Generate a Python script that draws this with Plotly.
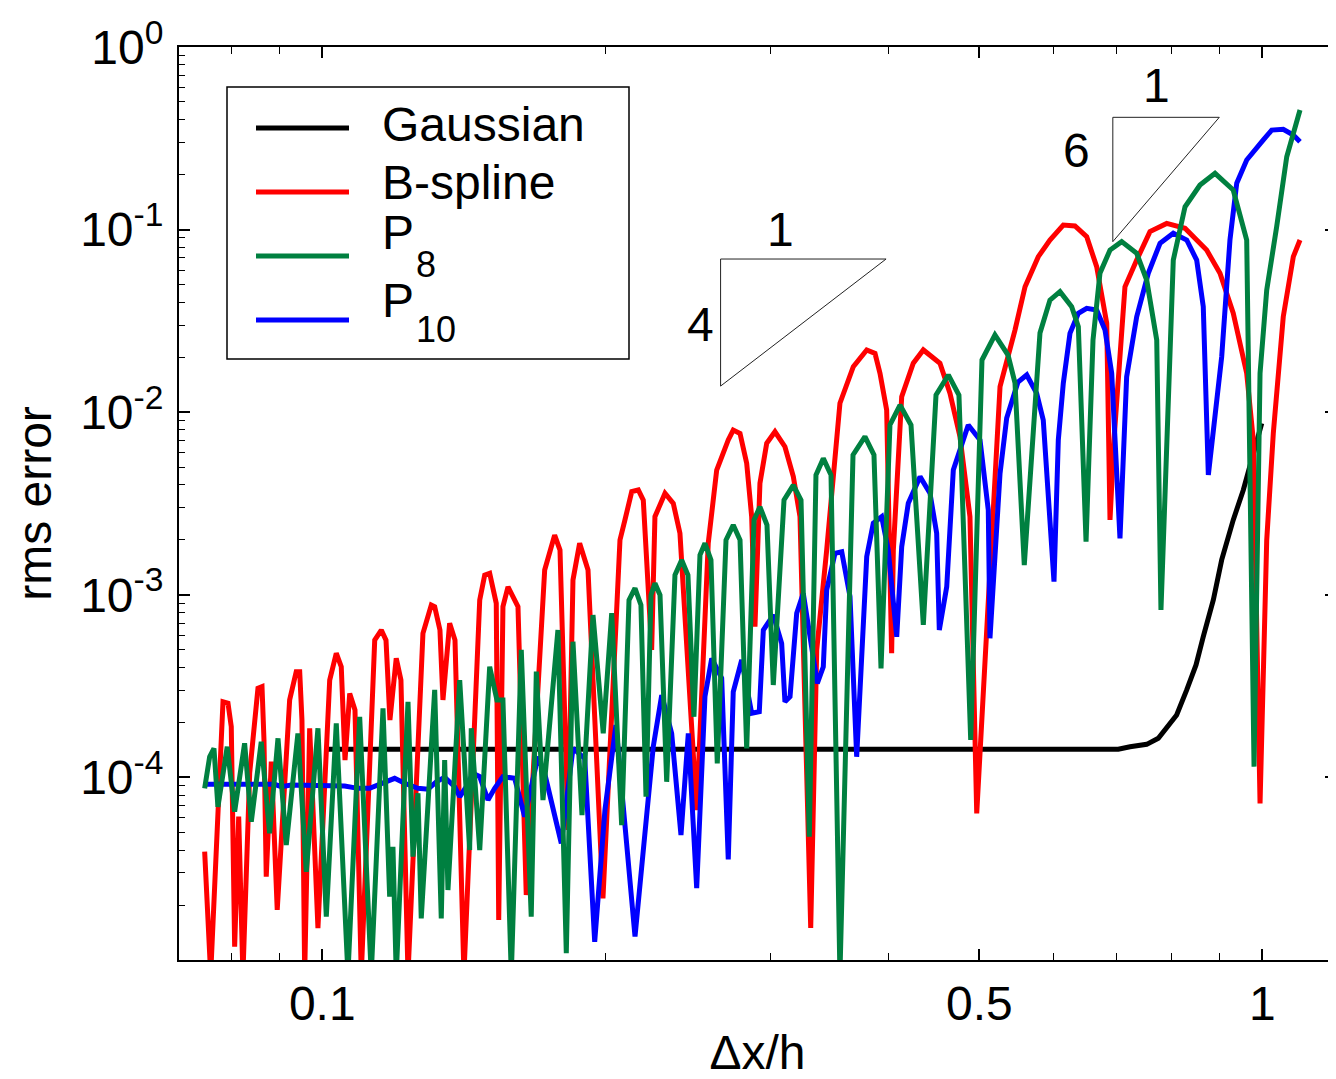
import plotly.graph_objects as go

# Curve samples. The plot is log-log, so every value is
# stored as log10(dx/h) and log10(rms error).

gauss_log_dx = [-0.9975, -0.1532, -0.1407, -0.1230, -0.1106, -0.0911, -0.0804, -0.0705,
                -0.0628, -0.0521, -0.0432, -0.0309, -0.0202, -0.0113, -0.0006]
gauss_log_err = [-3.846, -3.846, -3.832, -3.819, -3.786, -3.658, -3.521, -3.384,
                 -3.229, -3.028, -2.809, -2.590, -2.426, -2.262, -2.061]

bspline_log_dx = [-1.1251, -1.1187, -1.1056, -1.1003, -1.0968, -1.0932, -1.0889, -1.0844,
                  -1.0772, -1.0684, -1.0641, -1.0620, -1.0596, -1.0542, -1.0479, -1.0347,
                  -1.0277, -1.0240, -1.0216, -1.0187, -1.0134, -1.0046, -0.9921, -0.9851,
                  -0.9798, -0.9758, -0.9708, -0.9652, -0.9585, -0.9442, -0.9372, -0.9322,
                  -0.9280, -0.9213, -0.9163, -0.9088, -0.8929, -0.8840, -0.8804, -0.8748,
                  -0.8716, -0.8645, -0.8588, -0.8493, -0.8325, -0.8272, -0.8219, -0.8149,
                  -0.8123, -0.8078, -0.8024, -0.7918, -0.7830, -0.7634, -0.7528, -0.7471,
                  -0.7386, -0.7333, -0.7262, -0.7173, -0.7014, -0.6833, -0.6780, -0.6708,
                  -0.6638, -0.6585, -0.6496, -0.6461, -0.6354, -0.6266, -0.6195, -0.6017,
                  -0.5894, -0.5804, -0.5681, -0.5628, -0.5556, -0.5485, -0.5432, -0.5397,
                  -0.5344, -0.5272, -0.5184, -0.5078, -0.4989, -0.4918, -0.4804, -0.4740,
                  -0.4634, -0.4493, -0.4351, -0.4208, -0.4120, -0.4067, -0.3996, -0.3943,
                  -0.3925, -0.3836, -0.3713, -0.3606, -0.3429, -0.3322, -0.3216, -0.3110,
                  -0.3038, -0.2790, -0.2631, -0.2524, -0.2383, -0.2259, -0.2117, -0.1993,
                  -0.1868, -0.1762, -0.1655, -0.1620, -0.1578, -0.1461, -0.1336, -0.1195,
                  -0.1017, -0.0822, -0.0592, -0.0450, -0.0309, -0.0166, -0.0096, -0.0024,
                  0.0047, 0.0117, 0.0223, 0.0330, 0.0401]
bspline_log_err = [-4.407, -5.08, -3.586, -3.594, -3.722, -4.927, -4.215, -5.08,
                   -3.976, -3.512, -3.503, -3.795, -4.544, -3.914, -4.726, -3.576,
                   -3.421, -3.421, -3.686, -5.08, -3.731, -4.826, -3.467, -3.320,
                   -3.394, -3.905, -3.540, -3.631, -5.08, -3.248, -3.193, -3.248,
                   -3.686, -3.348, -3.467, -5.08, -3.211, -3.056, -3.065, -3.193,
                   -3.576, -3.156, -3.248, -5.08, -3.029, -2.892, -2.882, -3.047,
                   -4.781, -3.065, -2.956, -3.065, -4.644, -2.864, -2.673, -2.755,
                   -4.288, -2.919, -2.718, -2.864, -4.662, -2.700, -2.590, -2.435,
                   -2.426, -2.481, -3.302, -2.572, -2.444, -2.499, -2.663, -4.179,
                   -2.718, -2.317, -2.152, -2.098, -2.116, -2.280, -2.572, -3.175,
                   -2.389, -2.170, -2.107, -2.189, -2.353, -2.572, -4.825, -3.302,
                   -2.755, -1.951, -1.751, -1.659, -1.678, -1.787, -1.988, -3.320,
                   -2.755, -1.915, -1.732, -1.659, -1.732, -1.897, -2.134, -2.572,
                   -4.197, -1.860, -1.550, -1.313, -1.148, -1.057, -0.975, -0.980,
                   -1.039, -1.203, -1.513, -2.590, -2.152, -1.313, -1.167, -1.011,
                   -0.966, -0.993, -1.112, -1.239, -1.458, -1.787, -2.152, -4.142,
                   -2.700, -2.116, -1.477, -1.148, -1.057]

p8_log_dx = [-1.1251, -1.1198, -1.1152, -1.1110, -1.1011, -1.0932, -1.0826, -1.0755,
             -1.0649, -1.0560, -1.0471, -1.0383, -1.0259, -1.0170, -1.0046, -0.9957,
             -0.9851, -0.9727, -0.9602, -0.9479, -0.9354, -0.9283, -0.9248, -0.9213,
             -0.9088, -0.9035, -0.8982, -0.8947, -0.8804, -0.8734, -0.8698, -0.8663,
             -0.8538, -0.8432, -0.8415, -0.8325, -0.8219, -0.8142, -0.8078, -0.7989,
             -0.7883, -0.7777, -0.7723, -0.7652, -0.7493, -0.7404, -0.7333, -0.7237,
             -0.7120, -0.7011, -0.6921, -0.6815, -0.6737, -0.6673, -0.6610, -0.6556,
             -0.6503, -0.6461, -0.6407, -0.6336, -0.6248, -0.6177, -0.6110, -0.6046,
             -0.5982, -0.5929, -0.5865, -0.5798, -0.5705, -0.5628, -0.5556, -0.5485,
             -0.5407, -0.5344, -0.5269, -0.5202, -0.5088, -0.4989, -0.4907, -0.4819,
             -0.4748, -0.4670, -0.4588, -0.4493, -0.4354, -0.4227, -0.4131, -0.4056,
             -0.3961, -0.3854, -0.3737, -0.3606, -0.3471, -0.3340, -0.3227, -0.3102,
             -0.2982, -0.2844, -0.2705, -0.2631, -0.2532, -0.2365, -0.2259, -0.2152,
             -0.2028, -0.1957, -0.1875, -0.1801, -0.1727, -0.1620, -0.1496, -0.1336,
             -0.1230, -0.1123, -0.1078, -0.0947, -0.0822, -0.0663, -0.0503, -0.0309,
             -0.0166, -0.0088, -0.0024, 0.0047, 0.0153, 0.0260, 0.0401]
p8_log_err = [-4.060, -3.887, -3.841, -4.161, -3.832, -4.188, -3.813, -4.243,
              -3.805, -4.306, -3.786, -4.370, -3.759, -4.517, -3.731, -4.763,
              -3.704, -5.08, -3.668, -5.08, -3.622, -4.653, -4.380, -5.08,
              -3.586, -4.434, -4.087, -4.772, -3.521, -4.772, -3.905, -4.617,
              -3.467, -4.398, -3.731, -4.398, -3.394, -3.576, -3.576, -5.08,
              -3.302, -4.763, -3.421, -4.124, -3.193, -4.963, -3.257, -4.206,
              -3.111, -3.759, -3.101, -4.261, -3.029, -2.964, -3.056, -4.106,
              -3.001, -2.937, -3.001, -4.024, -2.892, -2.809, -2.892, -3.668,
              -2.782, -2.718, -2.809, -3.923, -2.700, -2.618, -2.700, -3.841,
              -2.590, -2.518, -2.618, -3.494, -2.481, -2.399, -2.481, -4.325,
              -2.344, -2.253, -2.344, -5.08, -2.234, -2.134, -2.234, -3.403,
              -2.070, -1.961, -2.070, -3.165, -1.906, -1.796, -1.906, -3.795,
              -1.714, -1.577, -1.687, -1.840, -2.837, -1.566, -1.386, -1.340,
              -1.422, -1.532, -2.709, -1.605, -1.239, -1.112, -1.066, -1.130,
              -1.276, -1.605, -3.083, -1.167, -0.875, -0.756, -0.692, -0.783,
              -1.057, -3.941, -1.787, -1.331, -0.984, -0.601, -0.345]

p10_log_dx = [-1.1251, -1.0506, -1.0436, -1.0330, -0.9762, -0.9620, -0.9496, -0.9372,
              -0.9230, -0.9123, -0.8982, -0.8876, -0.8787, -0.8698, -0.8591, -0.8538,
              -0.8468, -0.8397, -0.8325, -0.8237, -0.8166, -0.8078, -0.7953, -0.7847,
              -0.7705, -0.7634, -0.7457, -0.7333, -0.7208, -0.7102, -0.6993, -0.6876,
              -0.6673, -0.6479, -0.6389, -0.6283, -0.6184, -0.6106, -0.6017, -0.5929,
              -0.5857, -0.5751, -0.5681, -0.5628, -0.5538, -0.5432, -0.5351, -0.5308,
              -0.5202, -0.5113, -0.5078, -0.5024, -0.4953, -0.4883, -0.4734, -0.4670,
              -0.4634, -0.4546, -0.4474, -0.4386, -0.4315, -0.4208, -0.4138, -0.4049,
              -0.3979, -0.3889, -0.3836, -0.3766, -0.3641, -0.3535, -0.3464, -0.3436,
              -0.3357, -0.3287, -0.3128, -0.3003, -0.2915, -0.2897, -0.2790, -0.2719,
              -0.2599, -0.2506, -0.2400, -0.2330, -0.2216, -0.2170, -0.2117, -0.2046,
              -0.1957, -0.1868, -0.1762, -0.1673, -0.1602, -0.1514, -0.1443, -0.1336,
              -0.1213, -0.1088, -0.0947, -0.0804, -0.0698, -0.0628, -0.0574, -0.0432,
              -0.0344, -0.0272, -0.0166, 0.0011, 0.0100, 0.0223, 0.0330, 0.0401]
p10_log_err = [-4.038, -4.038, -4.051, -4.042, -4.047, -4.060, -4.060, -4.032,
               -4.005, -4.032, -4.060, -4.065, -4.024, -4.000, -4.051, -4.106,
               -4.051, -3.978, -3.996, -4.124, -4.060, -3.996, -4.005, -4.215,
               -3.887, -3.978, -4.361, -3.841, -3.896, -4.900, -4.179, -3.713,
               -4.872, -3.832, -3.549, -3.759, -4.316, -3.759, -4.607, -3.558,
               -3.348, -3.457, -4.449, -3.531, -3.357, -3.649, -3.640, -3.193,
               -3.111, -3.266, -3.586, -3.558, -3.101, -2.992, -3.485, -3.394,
               -2.974, -2.773, -2.764, -3.010, -3.887, -2.791, -2.608, -2.572,
               -2.755, -3.230, -2.737, -2.499, -2.353, -2.444, -2.663, -3.193,
               -2.956, -2.317, -2.070, -2.152, -2.536, -3.238, -2.335, -2.032,
               -1.835, -1.796, -1.897, -2.043, -2.928, -2.152, -1.842, -1.568,
               -1.458, -1.431, -1.440, -1.550, -1.787, -2.691, -1.806, -1.477,
               -1.239, -1.075, -1.020, -1.057, -1.167, -1.422, -2.344, -1.696,
               -1.057, -0.746, -0.619, -0.509, -0.455, -0.451, -0.482, -0.519]

# slope triangles (order 4 and order 6)
tri4_dx = [0.2653, 0.2653, 0.3979, 0.2653]
tri4_err = [0.0139, 0.069, 0.069, 0.0139]
tri6_dx = [0.6934, 0.6934, 0.9000, 0.6934]
tri6_err = [0.0859, 0.412, 0.412, 0.0859]

x_ticks = [0.1, 0.5, 1]
x_tick_labels = ["0.1", "0.5", "1"]
x_minor_ticks = [0.07, 0.08, 0.09, 0.2, 0.3, 0.4, 0.6, 0.7, 0.8, 0.9]
y_ticks = [1e-5, 1e-4, 1e-3, 1e-2, 1e-1, 1]
y_tick_labels = ["", "10<sup>-4</sup>", "10<sup>-3</sup>", "10<sup>-2</sup>",
                 "10<sup>-1</sup>", "10<sup>0</sup>"]
y_minor_ticks = [m * 10.0 ** k for k in range(-5, 0) for m in range(2, 10)]

FONT = "Liberation Sans, Arial, sans-serif"
BLACK = "#000000"
RED = "#FF0000"
GREEN = "#008040"
BLUE = "#0000FF"


def unlog(values):
    return [10.0 ** v for v in values]


fig = go.Figure()
series = [
    ("Gaussian", gauss_log_dx, gauss_log_err, BLACK),
    ("B-spline", bspline_log_dx, bspline_log_err, RED),
    ("P10", p10_log_dx, p10_log_err, BLUE),
    ("P8", p8_log_dx, p8_log_err, GREEN),
]
for name, lx, ly, color in series:
    fig.add_trace(go.Scatter(x=unlog(lx), y=unlog(ly), mode="lines", name=name,
                             line=dict(color=color, width=5), showlegend=False))

for tx, ty in [(tri4_dx, tri4_err), (tri6_dx, tri6_err)]:
    fig.add_trace(go.Scatter(x=tx, y=ty, mode="lines", showlegend=False, hoverinfo="skip",
                             line=dict(color="#222222", width=1)))

# page has an 8px body margin; plot area lands at x 179..1336, y 47..960
def px(x):
    return (x - 179) / 1157.0


def py(y):
    return (960 - y) / 913.0


shapes = [dict(type="rect", xref="paper", yref="paper", x0=px(227), x1=px(629),
               y0=py(359), y1=py(87), line=dict(color=BLACK, width=1.5),
               fillcolor="white", layer="above")]
legend_rows = [(128, BLACK), (192, RED), (256, GREEN), (320, BLUE)]
for y, color in legend_rows:
    shapes.append(dict(type="line", xref="paper", yref="paper", x0=px(256), x1=px(349),
                       y0=py(y), y1=py(y), line=dict(color=color, width=5), layer="above"))

texts = [
    ("Gaussian", 380, 125, 48),
    ("B-spline", 380, 182, 48),
    ("P", 380, 233, 48),
    ("8", 414, 264, 36),
    ("P", 380, 300, 48),
    ("10", 414, 329, 36),
    ("1", 780, 230, 48),
    ("4", 700, 324, 48),
    ("1", 1156, 86, 48),
    ("6", 1076, 151, 48),
]
annotations = []
for i, (t, x, y, size) in enumerate(texts):
    anchor = "left" if i < 6 else "center"
    annotations.append(dict(text=t, xref="paper", yref="paper", x=px(x), y=py(y),
                            xanchor=anchor, yanchor="middle", showarrow=False,
                            font=dict(family=FONT, size=size, color=BLACK)))

fig.update_layout(
    width=1328, height=1071,
    margin=dict(l=171, r=0, t=39, b=119, autoexpand=False),
    paper_bgcolor="white", plot_bgcolor="white",
    font=dict(family=FONT, size=48, color=BLACK),
    shapes=shapes, annotations=annotations,
    showlegend=False,
)
fig.update_xaxes(
    type="log", range=[-1.1524, 0.0784],
    tickmode="array", tickvals=x_ticks, ticktext=x_tick_labels,
    ticks="inside", ticklen=11, tickwidth=1.5, tickcolor=BLACK,
    minor=dict(tickmode="array", tickvals=x_minor_ticks, ticks="inside", ticklen=7,
               tickwidth=1, tickcolor=BLACK, showgrid=False),
    showline=True, linecolor=BLACK, linewidth=2, mirror="allticks",
    showgrid=False, zeroline=False, ticklabelstandoff=0,
    title=dict(text="\u0394x/h", standoff=34, font=dict(family=FONT, size=48)),
    automargin=False,
)
fig.update_yaxes(
    type="log", range=[-5, 0],
    tickmode="array", tickvals=y_ticks, ticktext=y_tick_labels,
    ticks="inside", ticklen=11, tickwidth=1.5, tickcolor=BLACK,
    minor=dict(tickmode="array", tickvals=y_minor_ticks, ticks="inside", ticklen=6,
               tickwidth=1, tickcolor=BLACK, showgrid=False),
    showline=True, linecolor=BLACK, linewidth=2, mirror="allticks",
    showgrid=False, zeroline=False, ticklabelstandoff=4,
    title=dict(text="rms error", standoff=14, font=dict(family=FONT, size=48)),
    automargin=False,
)

fig.write_html("out.html")
